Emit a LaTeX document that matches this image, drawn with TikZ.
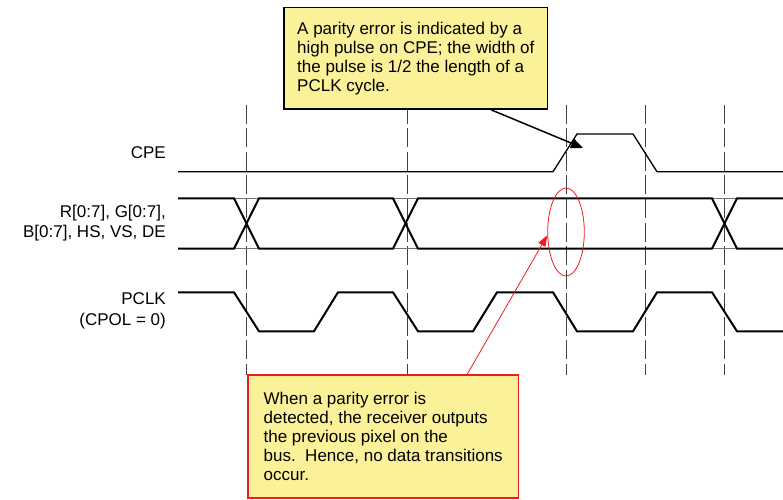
\documentclass[tikz,border=0pt]{standalone}
\usepackage{fontspec}
\setmainfont{Liberation Sans}
\usetikzlibrary{calc,arrows.meta,shapes.geometric}
\definecolor{noteyellow}{RGB}{250,241,152}
\definecolor{notered}{RGB}{237,28,36}
\tikzset{
	sigthin/.style={line width=1.3bp},
	sigthick/.style={line width=2bp},
	busthin/.style={line width=0.8bp, color=black!55},
	guideline/.style={line width=1bp, color=black!75, dash pattern=on 19bp off 4.5bp},
	siglabel/.style={anchor=east, align=right, inner sep=0pt, font=\fontsize{17bp}{20.5bp}\selectfont},
	note/.style={fill=noteyellow, anchor=north west, align=left, inner sep=0pt, font=\fontsize{17bp}{19bp}\selectfont}
}

\begin{document}
\begin{tikzpicture}[x=1bp, y=-1bp]
		%%%%% START %%%%%
		\useasboundingbox (0, 0) rectangle (783, 500);
		
		\foreach \x in {246, 407, 566, 645, 724}
			\draw[guideline] (\x, 105) -- (\x, 375);
		
		\node[siglabel] (cpelabel) at (166, 153) {CPE};
		\node[siglabel] (buslabel) at (166, 223) {R[0:7], G[0:7],\\B[0:7], HS, VS, DE};
		\node[siglabel] (clklabel) at (166, 311) {PCLK\\(CPOL = 0)};
		
		\draw[sigthin] (178, 171.7) -- (553, 171.7) -- (577, 134) -- (633, 134) -- (657, 171.7) -- (783, 171.7);
		
		\draw[busthin] (178, 198.3) -- (783, 198.3);
		\draw[busthin] (178, 248.7) -- (783, 248.7);
		\draw[sigthick] (178, 198.3) -- (234, 198.3) -- (259, 248.7) -- (393, 248.7) -- (418, 198.3) -- (712, 198.3) -- (737, 248.7) -- (783, 248.7);
		\draw[sigthick] (178, 248.7) -- (234, 248.7) -- (259, 198.3) -- (393, 198.3) -- (418, 248.7) -- (712, 248.7) -- (737, 198.3) -- (783, 198.3);
		
		\draw[sigthick] (178, 292.3) -- (234, 292.3) -- (259, 331.3) -- (314, 331.3) -- (338, 292.3) -- (393, 292.3) -- (418, 331.3)
			-- (473, 331.3) -- (497, 292.3) -- (553, 292.3) -- (577, 331.3) -- (633, 331.3) -- (657, 292.3) -- (712, 292.3) -- (737, 331.3) -- (783, 331.3);
		
		\node[note, draw=black, line width=1.6bp, minimum width=263.4bp, minimum height=101.6bp] (cpenote) at (283.3, 6.7)
			{A parity error is indicated by a\\high pulse on CPE; the width of\\the pulse is 1/2 the length of a\\PCLK cycle.};
		\coordinate (cpeedge) at (583, 148);
		\draw[line width=1.5bp, -{Triangle[length=12bp, width=10bp]}] ($(cpenote.south west)!0.785!(cpenote.south east)$) -- (cpeedge);
		
		\node[ellipse, draw=notered, line width=0.8bp, minimum width=36.6bp, minimum height=88bp, inner sep=0pt] (errring) at (566, 232) {};
		
		\node[note, draw=notered, line width=1.4bp, minimum width=270.4bp, minimum height=123bp] (busnote) at (247.3, 374.3)
			{When a parity error is\\detected, the receiver outputs\\the previous pixel on the\\bus.\ \ Hence, no data transitions\\occur.};
		\draw[notered, line width=0.8bp, -{Triangle[length=11bp, width=8bp]}] ($(busnote.north west)!0.809!(busnote.north east)$) -- (errring.190);
		
		%%%%% END %%%%%
\end{tikzpicture}
\end{document}
